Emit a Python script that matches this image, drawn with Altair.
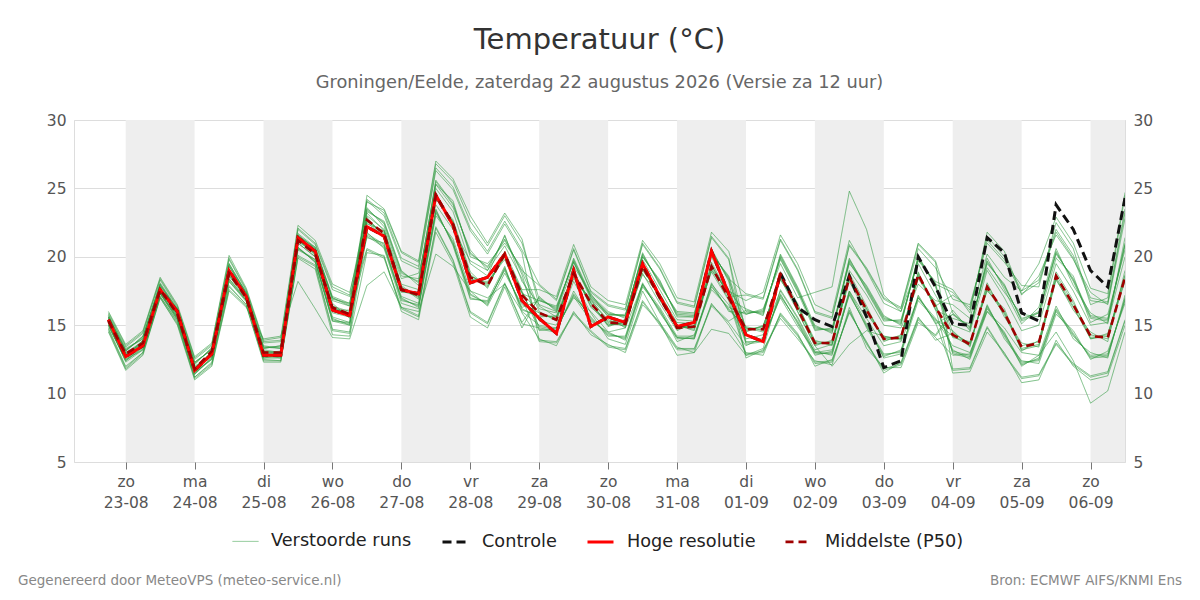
import altair as alt
import pandas as pd

# ---------------- data ----------------
start = "2026-08-22 18:00"
n_steps = 60
times = pd.date_range(start, periods=n_steps, freq="6h", tz="UTC")
time_str = [t.strftime("%Y-%m-%dT%H:%M:%SZ") for t in times]

hres = [15.4, 12.7, 13.5, 17.6, 16.0, 11.7, 12.9, 19.0, 17.1, 12.8,
        12.8, 21.4, 20.4, 16.1, 15.7, 22.2, 21.5, 17.6, 17.3, 24.5,
        22.3, 18.1, 18.5, 20.2, 16.8, 15.5, 14.4, 19.0, 14.9, 15.6,
        15.2, 19.5, 17.1, 14.9, 15.2, 20.4, 17.3, 14.3, 13.8, 18.8]

controle = [15.4, 12.7, 13.5, 17.6, 16.0, 11.7, 12.9, 19.0, 17.1, 12.8,
            12.8, 21.4, 20.4, 16.1, 15.7, 22.2, 21.5, 17.6, 17.3, 24.5,
            22.3, 18.1, 18.5, 20.2, 16.8, 15.5, 14.4, 19.0, 14.9, 15.6,
            15.2, 19.5, 17.1, 14.9, 15.2, 20.4, 17.3, 14.3, 13.8, 18.8,
            16.3, 15.4, 14.9, 18.6, 15.6, 11.9, 12.4, 20.0, 17.8, 15.1,
            15.0, 21.4, 20.3, 15.9, 15.3, 23.8, 22.0, 19.0, 17.8, 24.3]

p50 = [15.3, 12.9, 13.7, 17.6, 15.8, 11.8, 13.1, 18.8, 17.0, 13.0, 13.0, 21.2, 20.2, 16.3, 15.8,
       22.7, 21.7, 17.6, 17.2, 24.5, 22.4, 18.5, 17.9, 20.2, 17.2,
       15.9, 15.4, 18.8, 16.6, 15.2, 15.1, 19.3, 17.0, 14.8, 14.9, 19.3, 17.0,
       14.7, 14.7, 18.7, 16.2, 13.7, 13.7, 18.5, 16.1, 14.0, 14.1, 18.7, 16.3,
       14.3, 13.6, 17.8, 15.9, 13.4, 13.7, 18.6, 16.5, 14.2, 14.1, 18.5]

m01 = [15.9, 13.5, 14.5, 18.4, 16.4, 12.6, 13.6, 19.9, 17.6, 13.8, 13.9, 22.1, 21.0, 17.8, 17.2,
       23.5, 22.4, 18.8, 18.2, 25.5, 23.8, 20.3, 19.2, 21.3, 18.9,
       16.0, 15.3, 19.0, 16.3, 15.3, 14.9, 19.5, 16.8, 15.0, 14.7, 19.6, 17.2,
       13.7, 13.9, 17.2, 15.2, 12.9, 13.0, 17.3, 14.9, 12.8, 13.1, 17.1, 15.2,
       11.7, 11.8, 14.8, 12.8, 11.1, 11.3, 13.6, 12.1, 11.2, 11.5, 15.3]
m02 = [15.6, 13.2, 14.1, 18.0, 16.1, 12.2, 13.3, 19.4, 17.3, 13.4, 13.4, 21.6, 20.6, 17.0, 16.5,
       24.2, 23.2, 19.9, 19.3, 26.5, 25.1, 22.1, 20.4, 22.6, 20.5,
       18.0, 16.9, 20.6, 17.5, 16.5, 16.2, 21.0, 19.2, 16.7, 16.4, 21.5, 19.9,
       14.5, 15.0, 18.3, 16.5, 13.9, 13.5, 18.8, 16.4, 13.8, 14.3, 18.5, 16.6,
       13.0, 12.7, 16.3, 14.3, 12.2, 12.5, 16.1, 14.3, 12.7, 12.8, 16.9]
m03 = [15.3, 12.8, 13.8, 17.7, 15.7, 11.9, 12.9, 18.7, 17.0, 13.1, 13.0, 21.1, 20.3, 16.4, 16.0,
       24.0, 23.4, 20.3, 19.6, 26.8, 25.5, 22.6, 20.8, 23.0, 21.0,
       16.9, 16.2, 19.7, 17.0, 15.8, 15.7, 20.1, 18.1, 15.8, 15.7, 20.4, 18.4,
       17.3, 17.0, 21.3, 19.1, 16.0, 15.6, 20.9, 19.2, 17.0, 16.3, 21.0, 19.7,
       15.9, 14.8, 19.6, 17.9, 15.4, 16.0, 20.3, 18.3, 15.6, 15.4, 21.0]
m04 = [15.0, 12.4, 13.3, 17.4, 15.5, 11.5, 12.6, 18.3, 16.8, 12.7, 12.7, 20.6, 19.7, 15.4, 15.1,
       22.4, 21.9, 17.9, 17.0, 24.2, 22.7, 18.9, 17.7, 20.4, 17.6,
       17.6, 17.1, 20.9, 17.8, 16.8, 16.5, 21.2, 19.5, 17.0, 16.7, 21.8, 20.4,
       16.0, 15.9, 20.0, 17.6, 14.8, 14.6, 19.7, 17.7, 15.5, 15.2, 19.9, 18.0,
       17.4, 16.1, 21.5, 20.0, 17.5, 18.3, 22.0, 20.1, 17.0, 16.7, 23.5]
m05 = [14.7, 11.9, 13.0, 17.1, 15.2, 11.2, 12.2, 17.8, 16.5, 12.4, 12.4, 20.0, 19.3, 14.6, 14.4,
       21.6, 20.8, 16.9, 16.4, 23.3, 21.0, 17.2, 16.6, 19.1, 16.2,
       15.6, 15.7, 18.5, 16.7, 14.9, 15.3, 19.0, 17.3, 15.2, 15.1, 19.0, 17.5,
       16.8, 17.4, 21.6, 19.5, 16.5, 15.9, 21.2, 19.0, 16.6, 16.0, 20.6, 19.2,
       16.9, 16.5, 21.0, 19.6, 17.9, 17.8, 22.5, 20.6, 16.5, 17.0, 24.5]
m06 = [15.5, 13.0, 13.6, 17.5, 15.9, 11.7, 13.1, 18.9, 17.2, 12.9, 12.8, 21.3, 20.1, 16.0, 15.7,
       20.5, 19.9, 16.2, 15.6, 22.1, 19.7, 15.9, 15.1, 18.0, 15.1,
       14.8, 14.6, 17.3, 15.5, 14.3, 14.1, 18.0, 16.0, 14.0, 14.1, 17.9, 16.1,
       14.9, 14.6, 18.9, 16.0, 13.5, 13.9, 18.2, 15.8, 14.2, 13.9, 18.9, 16.1,
       15.5, 15.1, 19.2, 17.4, 15.8, 15.6, 19.9, 18.6, 15.2, 15.8, 20.5]
m07 = [15.7, 13.3, 14.0, 18.1, 16.2, 12.3, 13.2, 19.5, 17.4, 13.5, 13.3, 21.7, 20.7, 17.1, 16.6,
       22.9, 21.4, 17.4, 17.4, 24.7, 22.2, 18.3, 18.2, 19.8, 17.0,
       13.8, 13.7, 15.8, 14.5, 13.4, 13.2, 16.7, 15.0, 13.2, 13.2, 16.4, 15.2,
       13.5, 14.1, 17.0, 14.9, 13.1, 12.8, 17.5, 15.1, 12.6, 12.9, 16.8, 15.4,
       14.6, 13.4, 18.1, 15.6, 13.7, 13.4, 18.9, 16.8, 14.0, 14.4, 18.2]
m08 = [14.9, 12.5, 13.4, 17.3, 15.4, 11.6, 12.5, 18.2, 16.7, 12.8, 12.6, 20.5, 19.8, 15.6, 15.2,
       23.3, 22.6, 19.0, 17.9, 25.3, 24.1, 20.0, 19.5, 21.0, 19.2,
       16.2, 15.9, 18.6, 16.8, 15.4, 15.0, 18.8, 16.6, 14.6, 15.2, 18.9, 16.8,
       12.8, 13.0, 15.7, 14.2, 12.2, 12.3, 16.1, 13.6, 11.7, 12.1, 15.4, 14.1,
       12.8, 12.9, 16.5, 14.0, 12.4, 12.2, 15.8, 14.6, 12.5, 13.1, 16.6]
m09 = [16.0, 13.6, 14.6, 18.5, 16.5, 12.7, 13.7, 20.1, 17.7, 13.9, 14.1, 22.3, 21.2, 18.0, 17.4,
       22.6, 21.7, 17.8, 16.9, 24.3, 22.6, 18.7, 17.8, 20.2, 17.5,
       14.6, 14.8, 17.1, 15.3, 14.5, 13.9, 17.8, 16.2, 13.8, 14.3, 17.6, 16.3,
       15.8, 16.1, 19.8, 17.4, 14.6, 14.8, 19.5, 17.9, 15.7, 15.0, 20.1, 17.8,
       14.1, 13.8, 17.5, 16.2, 13.1, 13.9, 18.4, 16.1, 14.5, 13.8, 19.0]
m10 = [14.6, 11.8, 12.9, 17.0, 15.1, 11.1, 12.1, 17.6, 16.4, 12.3, 12.3, 19.9, 19.1, 14.3, 14.2,
       20.3, 20.1, 16.0, 15.4, 21.8, 19.5, 15.6, 14.8, 17.8, 14.8,
       17.1, 16.0, 19.9, 17.2, 16.0, 15.5, 20.3, 17.9, 16.0, 15.9, 20.2, 18.6,
       14.8, 14.5, 18.4, 16.0, 13.5, 12.0, 13.6, 14.6, 14.2, 14.0, 18.8, 16.2,
       11.5, 11.6, 14.5, 13.0, 10.8, 11.0, 13.9, 12.0, 11.0, 11.3, 15.0]
m11 = [15.4, 12.9, 13.7, 17.6, 15.8, 11.9, 13.0, 18.9, 17.0, 13.0, 13.1, 21.2, 20.2, 16.3, 15.8,
       21.8, 20.6, 16.6, 16.2, 23.0, 21.3, 17.5, 16.4, 18.8, 16.5,
       15.9, 15.4, 18.9, 16.4, 15.0, 15.2, 19.4, 16.9, 14.9, 14.8, 19.1, 16.9,
       16.2, 15.7, 20.2, 17.8, 15.0, 14.4, 19.9, 17.5, 15.3, 15.4, 19.7, 18.2,
       17.6, 15.9, 21.8, 20.4, 17.2, 18.6, 21.6, 19.8, 17.4, 16.5, 22.8]
m12 = [15.6, 13.1, 14.2, 17.9, 16.0, 12.1, 13.4, 19.3, 17.2, 13.3, 13.5, 21.5, 20.5, 16.8, 16.4,
       21.4, 21.0, 17.1, 16.6, 23.5, 20.8, 16.9, 16.8, 19.3, 15.9,
       14.0, 13.5, 16.0, 14.3, 13.6, 13.0, 16.5, 15.2, 13.4, 13.0, 16.6, 15.0,
       13.0, 12.8, 15.9, 14.4, 12.0, 12.5, 15.9, 13.8, 11.5, 12.3, 15.6, 13.9,
       14.4, 13.7, 17.6, 15.8, 13.2, 13.5, 18.3, 16.3, 14.0, 14.2, 18.7]
m13 = [15.1, 12.3, 13.2, 17.3, 15.6, 11.4, 12.7, 18.4, 16.9, 12.6, 12.8, 20.7, 19.6, 15.3, 15.0,
       24.5, 23.5, 20.4, 19.7, 27.0, 25.7, 23.0, 21.0, 23.2, 21.3,
       16.4, 15.6, 18.4, 16.9, 15.2, 15.4, 18.7, 17.2, 15.0, 14.6, 19.2, 17.3,
       14.6, 14.9, 18.7, 16.6, 13.6, 13.8, 18.6, 16.0, 14.0, 14.2, 18.4, 16.5,
       13.2, 12.5, 16.0, 14.5, 12.0, 12.8, 16.4, 14.0, 13.0, 12.6, 17.2]
m14 = [15.2, 12.7, 13.9, 17.7, 15.6, 11.8, 12.9, 18.6, 17.1, 13.0, 12.9, 21.0, 20.0, 16.1, 16.1,
       22.5, 21.5, 17.6, 17.3, 24.4, 22.5, 18.4, 18.1, 20.0, 17.3,
       16.8, 16.4, 19.6, 16.9, 15.7, 15.8, 20.0, 18.3, 15.6, 15.6, 20.6, 18.2,
       12.6, 13.2, 15.5, 14.0, 12.4, 12.1, 16.3, 13.3, 11.9, 11.9, 15.2, 14.3,
       16.1, 14.6, 19.9, 17.6, 15.1, 16.3, 20.6, 17.9, 15.9, 15.1, 21.4]
m15 = [14.5, 11.7, 12.8, 17.0, 15.0, 11.0, 12.0, 17.5, 16.3, 14.0, 14.2, 18.2, 16.2, 14.1, 14.0,
       17.9, 18.9, 16.3, 16.0, 20.2, 19.3, 17.5, 17.0, 18.0, 16.0,
       15.0, 14.8, 17.0, 16.0, 14.5, 14.8, 18.0, 16.3, 14.2, 14.2, 18.0, 16.5,
       14.0, 14.3, 17.5, 15.5, 13.0, 13.2, 17.5, 15.5, 13.5, 13.8, 17.0, 15.5,
       13.5, 13.0, 16.0, 14.8, 13.0, 12.8, 14.5, 12.4, 9.3, 10.2, 14.5]
m16 = [15.5, 12.6, 13.5, 17.8, 15.9, 12.0, 12.8, 19.1, 17.0, 12.8, 12.9, 21.4, 20.4, 16.6, 15.5,
       23.0, 22.0, 18.0, 17.6, 25.0, 23.3, 19.5, 18.6, 21.6, 18.2,
       16.5, 16.0, 19.3, 17.3, 15.6, 14.8, 19.8, 17.6, 15.4, 15.3, 20.0, 17.6,
       15.8, 16.2, 19.5, 17.0, 17.4, 17.8, 24.8, 22.0, 17.2, 16.0, 19.5, 17.2,
       15.0, 14.5, 19.0, 17.0, 14.6, 15.0, 19.5, 17.5, 15.0, 15.2, 20.0]
m17 = [15.2, 12.8, 13.9, 17.4, 15.7, 11.6, 12.8, 18.6, 16.9, 13.2, 13.0, 21.0, 20.0, 15.9, 15.6,
       23.2, 21.9, 18.4, 18.8, 23.8, 22.0, 19.7, 19.0, 20.8, 18.4,
       15.3, 15.0, 18.2, 15.9, 14.0, 13.6, 17.5, 15.2, 12.8, 13.0, 14.7, 14.4,
       12.8, 13.3, 17.6, 15.6, 13.2, 13.6, 19.0, 17.2, 15.0, 14.8, 18.0, 16.8,
       16.5, 15.5, 20.2, 18.5, 17.5, 19.5, 22.9, 21.0, 17.7, 17.3, 24.7]
m18 = [15.7, 13.1, 14.2, 17.9, 16.2, 12.3, 13.2, 19.3, 17.4, 13.3, 13.5, 21.5, 20.7, 16.9, 16.6,
       23.6, 22.2, 18.6, 18.4, 25.3, 23.6, 20.5, 19.0, 21.5, 18.7,
       14.7, 14.5, 17.5, 15.4, 14.4, 14.0, 17.9, 16.1, 14.1, 14.0, 18.1, 16.0,
       15.9, 16.0, 19.9, 17.5, 14.9, 14.5, 19.6, 17.6, 15.4, 15.3, 19.8, 18.1,
       12.9, 12.6, 16.2, 14.4, 12.3, 12.4, 16.0, 14.2, 12.8, 12.9, 16.8]
m19 = [15.0, 12.5, 13.2, 17.3, 15.4, 11.5, 12.5, 18.4, 16.8, 12.6, 12.6, 20.7, 19.6, 15.5, 15.0,
       21.7, 20.9, 16.8, 16.5, 23.2, 21.1, 17.0, 16.7, 19.0, 16.3,
       16.8, 16.3, 19.6, 17.1, 15.9, 15.6, 20.2, 18.0, 15.9, 15.8, 20.3, 18.5,
       13.8, 13.8, 17.3, 15.1, 12.8, 13.1, 17.2, 15.0, 12.9, 13.0, 17.2, 15.1,
       15.8, 14.9, 19.5, 18.0, 15.3, 15.9, 20.4, 18.2, 15.5, 15.3, 20.8]
m20 = [15.4, 13.0, 13.8, 17.5, 15.9, 11.8, 13.0, 18.9, 17.1, 13.1, 12.9, 21.2, 20.3, 16.2, 15.9,
       23.4, 22.5, 18.9, 18.1, 25.6, 23.9, 20.2, 19.3, 21.2, 19.0,
       17.9, 16.8, 20.5, 17.4, 16.4, 16.1, 20.9, 19.1, 16.6, 16.3, 21.4, 19.8,
       13.6, 13.8, 17.1, 15.3, 13.0, 12.9, 17.4, 14.8, 12.7, 13.2, 17.0, 15.3,
       14.2, 13.5, 17.9, 15.9, 13.5, 13.8, 18.7, 16.6, 14.3, 14.0, 18.4]
m21 = [15.8, 13.4, 14.4, 18.3, 16.3, 12.5, 13.5, 19.8, 17.5, 13.7, 13.8, 22.0, 20.9, 17.6, 17.1,
       21.5, 20.7, 17.0, 16.3, 23.4, 20.9, 17.3, 16.5, 19.2, 16.1,
       15.7, 15.6, 18.7, 16.6, 15.0, 15.2, 19.1, 17.1, 14.7, 15.0, 19.4, 17.1,
       17.2, 16.9, 21.2, 19.0, 15.9, 15.5, 20.8, 19.1, 16.9, 16.2, 20.9, 19.6,
       11.8, 11.9, 14.9, 12.9, 11.2, 11.4, 13.7, 12.2, 11.3, 11.6, 15.4]
m22 = [14.8, 12.0, 13.0, 17.1, 15.3, 11.2, 12.3, 17.9, 16.5, 12.5, 12.4, 20.1, 19.4, 14.7, 14.5,
       22.8, 21.6, 17.5, 17.1, 24.6, 22.3, 18.6, 17.9, 20.0, 17.4,
       14.9, 14.7, 17.2, 15.6, 14.2, 14.2, 18.1, 15.9, 14.1, 14.0, 17.8, 16.2,
       14.8, 14.7, 18.5, 16.3, 13.8, 13.7, 18.4, 16.2, 14.1, 14.0, 18.6, 16.4,
       17.2, 16.3, 21.2, 19.8, 17.3, 18.1, 21.8, 19.9, 16.8, 16.6, 23.2]
m23 = [15.3, 12.9, 13.6, 17.7, 15.8, 11.7, 13.1, 18.7, 17.2, 12.9, 13.0, 21.3, 20.2, 16.4, 15.8,
       24.1, 23.0, 19.7, 19.1, 26.3, 24.9, 21.9, 20.2, 22.4, 20.3,
       13.9, 13.8, 15.9, 14.6, 13.5, 13.3, 16.8, 15.1, 13.3, 13.3, 16.5, 15.3,
       16.1, 15.8, 20.1, 17.7, 14.7, 14.7, 19.8, 17.8, 15.6, 15.1, 20.0, 17.9,
       14.5, 13.6, 17.7, 16.0, 13.3, 13.6, 18.5, 16.4, 14.1, 14.3, 18.6]
m24 = [15.6, 13.2, 14.0, 18.0, 16.1, 12.2, 13.3, 19.5, 17.3, 13.4, 13.3, 21.6, 20.6, 17.0, 16.4,
       20.6, 20.0, 16.3, 15.7, 22.2, 19.8, 16.0, 15.2, 18.1, 15.2,
       17.0, 16.1, 19.8, 17.1, 15.8, 15.7, 20.0, 18.2, 15.7, 15.6, 20.5, 18.3,
       14.7, 14.9, 18.6, 16.3, 13.7, 13.6, 18.5, 16.2, 13.9, 14.1, 18.7, 16.4,
       13.1, 12.8, 16.4, 14.2, 12.1, 12.6, 16.2, 14.4, 12.6, 12.7, 17.0]
m25 = [15.1, 12.4, 13.4, 17.4, 15.5, 11.4, 12.6, 18.2, 16.8, 12.7, 12.7, 20.6, 19.8, 15.3, 15.2,
       22.6, 21.8, 17.7, 17.2, 24.6, 22.5, 18.6, 18.0, 20.1, 17.4,
       15.9, 15.5, 18.9, 16.6, 15.1, 15.0, 19.2, 17.0, 14.9, 14.9, 19.4, 17.1,
       12.9, 13.1, 15.8, 14.3, 12.3, 12.4, 16.0, 13.7, 11.8, 12.2, 15.5, 14.2,
       15.8, 14.7, 19.7, 17.8, 15.5, 15.9, 20.2, 18.4, 15.7, 15.5, 20.9]

members = {"m01": m01, "m02": m02, "m03": m03, "m04": m04, "m05": m05, "m06": m06,
           "m07": m07, "m08": m08, "m09": m09, "m10": m10, "m11": m11, "m12": m12,
           "m13": m13, "m14": m14, "m15": m15, "m16": m16, "m17": m17, "m18": m18,
           "m19": m19, "m20": m20, "m21": m21, "m22": m22, "m23": m23, "m24": m24,
           "m25": m25}

band_starts = ["2026-08-23", "2026-08-25", "2026-08-27", "2026-08-29",
               "2026-08-31", "2026-09-02", "2026-09-04", "2026-09-06"]
band_ends = ["2026-08-24", "2026-08-26", "2026-08-28", "2026-08-30",
             "2026-09-01", "2026-09-03", "2026-09-05", "2026-09-06T12:00"]
tick_days = pd.date_range("2026-08-23", "2026-09-06", freq="D", tz="UTC")
day_names = ["zo", "ma", "di", "wo", "do", "vr", "za"]
y_ticks = [5, 10, 15, 20, 25, 30]

S_RUNS, S_CTRL, S_HRES, S_P50 = "Verstoorde runs", "Controle", "Hoge resolutie", "Middelste (P50)"
series_order = [S_RUNS, S_CTRL, S_HRES, S_P50]

title_text = "Temperatuur (°C)"
subtitle_text = "Groningen/Eelde, zaterdag 22 augustus 2026 (Versie za 12 uur)"
footer_left = "Gegenereerd door MeteoVPS (meteo-service.nl)"
footer_right = "Bron: ECMWF AIFS/KNMI Ens"

# ---------------- checks / tables ----------------
for k, v in members.items():
    assert len(v) == n_steps, (k, len(v))
assert len(p50) == n_steps and len(controle) == n_steps

rows = []
for k, vals in members.items():
    for t, v in zip(time_str, vals):
        rows.append({"t": t, "v": v, "series": S_RUNS, "member": k})
for t, v in zip(time_str, controle):
    rows.append({"t": t, "v": v, "series": S_CTRL, "member": "ctrl"})
for t, v in zip(time_str, hres):
    rows.append({"t": t, "v": v, "series": S_HRES, "member": "hres"})
for t, v in zip(time_str, p50):
    rows.append({"t": t, "v": v, "series": S_P50, "member": "p50"})
df = pd.DataFrame(rows)


def iso(s):
    return pd.Timestamp(s, tz="UTC").strftime("%Y-%m-%dT%H:%M:%SZ")


bands = pd.DataFrame({"start": [iso(s) for s in band_starts], "end": [iso(e) for e in band_ends]})


def ms(s):
    return int(pd.Timestamp(s, tz="UTC").timestamp() * 1000)


x_domain = [ms("2026-08-22 06:00"), ms("2026-09-06 12:00")]
tick_vals = [int(t.timestamp() * 1000) for t in tick_days]

FONT = "DejaVu Sans"
W, H = 1051, 342

x_scale = alt.Scale(type="utc", domain=x_domain)
x_axis = alt.Axis(values=tick_vals, title=None, grid=False, domain=False,
                  tickColor="#777", tickSize=7, labelFontSize=15.5, labelColor="#555",
                  labelPadding=5, labelLineHeight=21, labelFont=FONT,
                  labelExpr="[" + str(day_names) + "[utcday(datum.value)], utcFormat(datum.value, '%d-%m')]")
y_scale = alt.Scale(domain=[5, 30], nice=False, zero=False)
y_axis = alt.Axis(values=y_ticks, title=None, grid=True, gridColor="#dddddd", ticks=False,
                  domain=False, labelFontSize=15.5, labelColor="#555", labelPadding=8, labelFont=FONT)

color_scale = alt.Scale(domain=series_order, range=["#2f9a3f", "#111111", "#ff0000", "#a00000"])
dash_scale = alt.Scale(domain=series_order, range=[[1, 0], [9, 5], [1, 0], [8, 5]])
width_scale = alt.Scale(type="ordinal", domain=series_order, range=[1, 3, 3, 2.6])
opac_scale = alt.Scale(type="ordinal", domain=series_order, range=[0.62, 1, 1, 1])

legend = alt.Legend(title=None, orient="none", legendX=158, legendY=407, direction="horizontal",
                    labelFontSize=17.7, labelColor="#222", labelFont=FONT, symbolSize=676,
                    columnPadding=24, labelOffset=12, symbolType="stroke")

band_layer = alt.Chart(bands).mark_rect(color="#eeeeee", clip=True).encode(
    x=alt.X("start:T", scale=x_scale, axis=x_axis),
    x2="end:T",
)


def line_layer(series_name):
    return alt.Chart(df).transform_filter(alt.datum.series == series_name).mark_line(clip=True).encode(
        x=alt.X("t:T", scale=x_scale, axis=x_axis),
        y=alt.Y("v:Q", scale=y_scale, axis=y_axis),
        color=alt.Color("series:N", scale=color_scale, legend=legend),
        strokeDash=alt.StrokeDash("series:N", scale=dash_scale, legend=legend),
        strokeWidth=alt.StrokeWidth("series:N", scale=width_scale, legend=legend),
        opacity=alt.Opacity("series:N", scale=opac_scale, legend=legend),
        detail="member:N",
    )


foot_l = alt.Chart(pd.DataFrame({"txt": [footer_left]})).mark_text(
    align="left", baseline="middle", fontSize=13.5, color="#888", font=FONT
).encode(text="txt:N", x=alt.value(-56), y=alt.value(461))
foot_r = alt.Chart(pd.DataFrame({"txt": [footer_right]})).mark_text(
    align="right", baseline="middle", fontSize=13.5, color="#888", font=FONT
).encode(text="txt:N", x=alt.value(1108), y=alt.value(461))

main = alt.layer(band_layer, line_layer(S_RUNS), line_layer(S_CTRL), line_layer(S_HRES),
                 line_layer(S_P50), foot_l, foot_r)

right_axis = alt.Chart(pd.DataFrame({"t": time_str, "v": p50})).mark_line(opacity=0).encode(
    x=alt.X("t:T", scale=x_scale, axis=x_axis),
    y=alt.Y("v:Q", scale=y_scale,
            axis=alt.Axis(values=y_ticks, orient="right", title=None, grid=False, ticks=False,
                          domain=False, labelFontSize=15.5, labelColor="#555", labelPadding=8,
                          labelFont=FONT)),
)

chart = alt.layer(main, right_axis).resolve_scale(y="independent").properties(
    width=W, height=H,
    autosize=alt.AutoSizeParams(type="none"),
    padding={"left": 66, "top": 112, "right": 60, "bottom": 130},
    title=alt.TitleParams(text=title_text, subtitle=subtitle_text, fontSize=29, subtitleFontSize=17.8,
                          color="#333", subtitleColor="#666", font=FONT, subtitleFont=FONT,
                          fontWeight="normal", anchor="middle", offset=21, subtitlePadding=19),
).configure_view(stroke=None).configure(font=FONT)

chart.save("out.html", embed_options={"renderer": "svg", "actions": False})
